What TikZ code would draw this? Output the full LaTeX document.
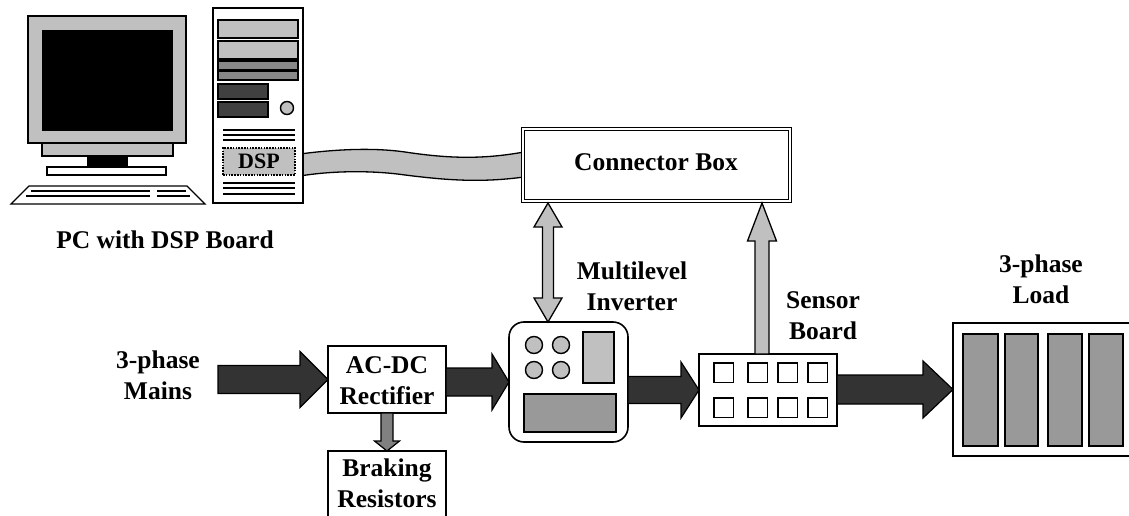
\documentclass[tikz,border=0pt]{standalone}
\usepackage{fontspec}
\setmainfont{Liberation Serif}
\usetikzlibrary{calc}
\definecolor{panel}{HTML}{C0C0C0}
\definecolor{midgray}{HTML}{999999}
\definecolor{baygray}{HTML}{888888}
\definecolor{slotgray}{HTML}{404040}
\definecolor{powergray}{HTML}{333333}
\definecolor{brakegray}{HTML}{808080}

% horizontal block arrow: style, tail, tip, shaft half-height, head half-height, head length
\newcommand\HArrow[6]{%
  \path[#1] let \p1=#2, \p2=#3 in
    (\x1,\y2+#4) -- (\x2-#6,\y2+#4) -- (\x2-#6,\y2+#5) -- (\x2,\y2)
    -- (\x2-#6,\y2-#5) -- (\x2-#6,\y2-#4) -- (\x1,\y2-#4) -- cycle;}
% vertical block arrow (up or down): style, tail, tip, shaft half-width, head half-width, head length
\newcommand\VArrow[6]{%
  \path[#1] let \p1=#2, \p2=#3, \n1={ifthenelse(\y1>\y2,1,-1)} in
    (\x2+#4,\y1) -- (\x2+#4,\y2+\n1*#6) -- (\x2+#5,\y2+\n1*#6) -- (\x2,\y2)
    -- (\x2-#5,\y2+\n1*#6) -- (\x2-#4,\y2+\n1*#6) -- (\x2-#4,\y1) -- cycle;}
% two-headed vertical block arrow: style, upper tip, lower tip, shaft half-width, head half-width, head length
\newcommand\DVArrow[6]{%
  \path[#1] let \p1=#2, \p2=#3 in
    (\x1,\y1) -- (\x1+#5,\y1-#6) -- (\x1+#4,\y1-#6) -- (\x1+#4,\y2+#6)
    -- (\x1+#5,\y2+#6) -- (\x1,\y2) -- (\x1-#5,\y2+#6) -- (\x1-#4,\y2+#6)
    -- (\x1-#4,\y1-#6) -- (\x1-#5,\y1-#6) -- cycle;}

\begin{document}
\begin{tikzpicture}[x=1pt,y=-1pt,
  lbl/.style={font=\bfseries\fontsize{25.5}{30.5}\selectfont, align=center, inner sep=0pt},
  box/.style={draw=black, line width=1.6pt, fill=white, inner sep=0pt, outer sep=0pt},
  part/.style={draw=black, line width=1.4pt},
  power/.style={fill=powergray, draw=black, line width=1.2pt, line join=miter},
  signal/.style={fill=panel, draw=black, line width=1.3pt},
  brake/.style={fill=brakegray, draw=black, line width=1.2pt}]
\useasboundingbox (0,0) rectangle (1129,516);
\clip (0,0) rectangle (1129,516);

% ---- cable from the DSP board to the connector box
\path[signal] (300,154) .. controls (330,150) and (370,147) .. (405,152)
  .. controls (445,158) and (480,160) .. (524,152) -- (524,177)
  .. controls (480,183) and (445,180) .. (405,175)
  .. controls (370,170) and (330,171) .. (300,176) -- cycle;

% ---- monitor and keyboard
\draw[part, fill=panel] (28,16) rectangle (186,143);
\draw[part, fill=black] (43,31) rectangle (172,130);
\draw[part, fill=panel] (42,143) rectangle (173,156);
\draw[part, fill=black] (88,156) rectangle (127,167);
\draw[part, fill=white] (47,167) rectangle (166,175);
\draw[part, fill=white, line join=miter] (29,186) -- (187,186) -- (205,204) -- (11,204) -- cycle;
\draw[line width=1.3pt] (31,191) -- (150,191) (157,191) -- (186,191)
  (26,196) -- (150,196) (157,196) -- (190,196);

% ---- tower case
\node[box, minimum width=90pt, minimum height=195pt] (tower) at (258,105.5) {};
\draw[part, fill=panel] (218,20) rectangle (298,38);
\draw[part, fill=panel] (218,41) rectangle (298,59);
\draw[part, fill=baygray] (218,61) rectangle (298,70);
\draw[part, fill=baygray] (218,71) rectangle (298,80);
\draw[part, fill=slotgray] (218,84) rectangle (268,99);
\draw[part, fill=slotgray] (218,102) rectangle (268,117);
\draw[part, fill=panel] (287,108) circle (6.5);
\draw[line width=1.3pt] (223,130) -- (295,130) (223,135) -- (295,135) (223,140) -- (295,140)
  (223,183) -- (295,183) (223,188) -- (295,188) (223,194) -- (295,194);
\node[draw=black, fill=panel, line width=2.4pt, dash pattern=on 1.6pt off 1.2pt,
  minimum width=72pt, minimum height=27pt, inner sep=0pt,
  font=\bfseries\fontsize{22}{26}\selectfont] (dsp) at (259,161.5) {DSP};
\node[lbl, anchor=base] (pclabel) at (165,248) {PC with DSP Board};

% ---- connector box
\node[draw=black, fill=white, line width=1.2pt, double=white, double distance=1.6pt,
  minimum width=267pt, minimum height=72pt, inner sep=0pt, outer sep=2pt] (conn) at (656.5,165) {};
\node[lbl, anchor=base] (connlabel) at (656,170) {Connector Box};

% ---- power stage boxes
\node[box, minimum width=118pt, minimum height=67pt] (rect) at (387,379.5) {};
\node[box, minimum width=118pt, minimum height=80pt] (brak) at (387,491) {};
\node[box, rounded corners=15pt, minimum width=119pt, minimum height=120pt] (inv) at (568.5,382) {};
\node[box, minimum width=138pt, minimum height=72pt] (sensor) at (768,390) {};
\node[box, minimum width=187pt, minimum height=133pt] (load) at (1046.5,389.5) {};

% inverter details
\foreach \cx/\cy in {534/345, 561/345, 534/370, 561/370}
  \draw[part, fill=panel] (\cx,\cy) circle (8.5);
\draw[part, fill=panel] (583,332) rectangle (614,383);
\draw[part, fill=midgray] (524,394) rectangle (616,432);

% sensor board terminals
\foreach \sx in {714,748,778,808}
  \foreach \sy in {363,398}
    \draw[part] (\sx,\sy) rectangle ++(19.5,19.5);

% load phases
\foreach \lx/\rx in {963/998, 1005/1038, 1048/1082, 1089/1123}
  \draw[line width=1.6pt, fill=midgray] (\lx,334) rectangle (\rx,446);

% ---- power flow
\coordinate (mainsin) at (218,381);
\HArrow{power}{(mainsin)}{(rect.west)}{14pt}{28pt}{28pt}
\HArrow{power}{(rect.east)}{(inv.west)}{14pt}{28pt}{17pt}
\HArrow{power}{(inv.east)}{(sensor.west)}{13.5pt}{28pt}{18pt}
\HArrow{power}{(sensor.east)}{(load.west)}{14.5pt}{28.5pt}{30pt}
\VArrow{brake}{(rect.south)}{(brak.north)}{6pt}{12.5pt}{10pt}

% ---- signal paths
\coordinate (invport) at ([xshift=-20.5pt]inv.north);
\coordinate (sensport) at ([xshift=-6pt]sensor.north);
\DVArrow{signal}{(invport |- conn.south)}{(invport)}{5.5pt}{14pt}{24pt}
\VArrow{signal}{(sensport)}{(sensport |- conn.south)}{7pt}{14.5pt}{38pt}

% ---- labels (anchored on the baseline of the last line)
\node[lbl, anchor=base] (rectlabel) at (387,404) {AC-DC\\Rectifier};
\node[lbl, anchor=base] (braklabel) at (387,507) {Braking\\Resistors};
\node[lbl, anchor=base] (mainslabel) at (158,399) {3-phase\\Mains};
\node[lbl, anchor=base] (invlabel) at (632,310) {Multilevel\\Inverter};
\node[lbl, anchor=base] (sensorlabel) at (823,339) {Sensor\\Board};
\node[lbl, anchor=base] (loadlabel) at (1041,303) {3-phase\\Load};
\end{tikzpicture}
\end{document}
